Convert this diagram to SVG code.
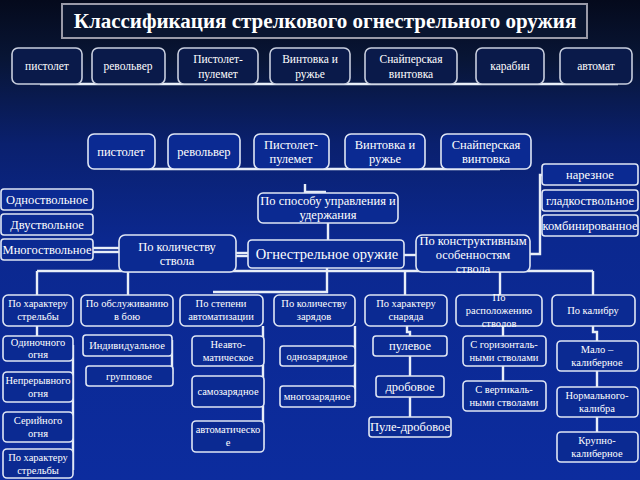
<svg xmlns="http://www.w3.org/2000/svg" width="640" height="480" viewBox="0 0 640 480" font-family="'Liberation Serif', 'DejaVu Serif', serif">
<defs>
<linearGradient id="bg" x1="0" y1="0" x2="0" y2="1">
<stop offset="0" stop-color="#050a1c"/>
<stop offset="0.12" stop-color="#081535"/>
<stop offset="0.3" stop-color="#0a206e"/>
<stop offset="0.5" stop-color="#0b288f"/>
<stop offset="1" stop-color="#0c2c9e"/>
</linearGradient>
<style>
.b{fill:#0b2a92;stroke:#dfe6f5;stroke-width:1.6}
.bt{fill:#0a1a4a;stroke:#c8cede;stroke-width:1.6}
.ti{fill:#0a1530;stroke:#9a9aa8;stroke-width:2}
.c{stroke:#e8eef8;stroke-width:2.4;fill:none}
text{font-family:'Liberation Serif','DejaVu Serif',serif;fill:#ffffff;text-anchor:middle}
.tt{font-size:11.5px}
.t12{font-size:12.5px}
.t11{font-size:10.5px}
.t15{font-size:14.5px}
</style>
</defs>
<rect width="640" height="480" fill="url(#bg)"/>

<g id="title">
<rect class="ti" x="62" y="4" width="525" height="34"/>
<text x="325" y="28" style="font-size:21px;font-weight:bold">Классификация стрелкового огнестрельного оружия</text>
</g>

<g id="connectors">
<line class="c" x1="40" y1="84" x2="618" y2="84" stroke-width="2"/>
<line class="c" x1="120" y1="169" x2="500" y2="169" stroke-width="2"/>
<polyline class="c" points="305,184 305,192 326,192"/>
<line class="c" x1="328" y1="223" x2="328" y2="240"/>
<line class="c" x1="236" y1="253" x2="248" y2="253"/>
<line class="c" x1="236" y1="256" x2="248" y2="256" stroke-width="1.5"/>
<line class="c" x1="404" y1="255" x2="416" y2="255"/>
<polyline class="c" points="530,254 540,254 540,175 542,175"/>
<line class="c" x1="93" y1="248" x2="119" y2="248" stroke-width="1.5"/>
<line class="c" x1="93" y1="252" x2="119" y2="252" stroke-width="1.5"/>
<line class="c" x1="37" y1="271" x2="593" y2="271"/>
<line class="c" x1="37" y1="271" x2="37" y2="295"/>
<line class="c" x1="128" y1="271" x2="128" y2="295"/>
<polyline class="c" points="327,268 327,292 213,292"/>
<line class="c" x1="405" y1="271" x2="405" y2="295"/>
<line class="c" x1="500" y1="271" x2="500" y2="295"/>
<line class="c" x1="593" y1="271" x2="593" y2="295"/>
<line class="c" x1="37" y1="326" x2="37" y2="336"/>
<line class="c" x1="73" y1="345" x2="73" y2="470"/>
<line class="c" x1="172" y1="340" x2="172" y2="374"/>
<line class="c" x1="263" y1="326" x2="263" y2="445"/>
<line class="c" x1="355" y1="326" x2="355" y2="402"/>
<polyline class="c" points="407,326 407,332 410,332 410,420"/>
<line class="c" x1="503" y1="326" x2="503" y2="381"/>
<polyline class="c" points="593,326 593,332 597,332 597,432"/>
</g>

<g id="top-pistolet"><rect class="bt" x="12" y="48" width="70" height="36" rx="6"/><text class="tt" x="47" y="70">пистолет</text></g>
<g id="top-revolver"><rect class="bt" x="92" y="48" width="73" height="36" rx="6"/><text class="tt" x="128" y="70">револьвер</text></g>
<g id="top-pp"><rect class="bt" x="178" y="48" width="80" height="36" rx="6"/><text class="tt" x="218" y="63">Пистолет-</text><text class="tt" x="218" y="78">пулемет</text></g>
<g id="top-vintovka"><rect class="bt" x="270" y="48" width="80" height="36" rx="6"/><text class="tt" x="310" y="63">Винтовка и</text><text class="tt" x="310" y="78">ружье</text></g>
<g id="top-sniper"><rect class="bt" x="365" y="48" width="92" height="36" rx="6"/><text class="tt" x="411" y="63">Снайперская</text><text class="tt" x="411" y="78">винтовка</text></g>
<g id="top-karabin"><rect class="bt" x="476" y="48" width="68" height="36" rx="6"/><text class="tt" x="510" y="70">карабин</text></g>
<g id="top-avtomat"><rect class="bt" x="560" y="48" width="72" height="36" rx="6"/><text class="tt" x="596" y="70">автомат</text></g>

<g id="r2-pistolet"><rect class="b" x="88" y="134" width="67" height="35" rx="6"/><text class="t12" x="121" y="156">пистолет</text></g>
<g id="r2-revolver"><rect class="b" x="168" y="134" width="72" height="35" rx="6"/><text class="t12" x="204" y="156">револьвер</text></g>
<g id="r2-pp"><rect class="b" x="254" y="134" width="75" height="35" rx="6"/><text class="t12" x="291" y="149">Пистолет-</text><text class="t12" x="291" y="163">пулемет</text></g>
<g id="r2-vintovka"><rect class="b" x="345" y="134" width="80" height="35" rx="6"/><text class="t12" x="385" y="149">Винтовка и</text><text class="t12" x="385" y="163">ружье</text></g>
<g id="r2-sniper"><rect class="b" x="441" y="134" width="90" height="35" rx="6"/><text class="t12" x="486" y="149">Снайперская</text><text class="t12" x="486" y="163">винтовка</text></g>

<g id="sposob"><rect class="b" x="258" y="193" width="140" height="30" rx="5"/><text class="t12" x="328" y="205">По способу управления и</text><text class="t12" x="328" y="219">удержания</text></g>
<g id="main"><rect class="b" x="248" y="240" width="156" height="28" rx="4" stroke-width="3.5"/><rect x="251" y="243" width="150" height="22" rx="2" fill="none" stroke="#0b2a92" stroke-width="1"/><text class="t15" x="327" y="259">Огнестрельное оружие</text></g>
<g id="kol-stvola"><rect class="b" x="119" y="235" width="117" height="37" rx="6"/><text class="t12" x="177" y="251">По количеству</text><text class="t12" x="177" y="265">ствола</text></g>
<g id="konstr"><rect class="b" x="416" y="235" width="114" height="37" rx="6"/><text class="t12" x="473" y="245">По конструктивным</text><text class="t12" x="473" y="259">особенностям</text><text class="t12" x="473" y="273">ствола</text></g>

<g id="odnostv"><rect class="b" x="1" y="189" width="92" height="21" rx="3"/><text class="t12" x="47" y="204">Одноствольное</text></g>
<g id="dvustv"><rect class="b" x="1" y="214" width="92" height="21" rx="3"/><text class="t12" x="47" y="229">Двуствольное</text></g>
<g id="mnogostv"><rect class="b" x="1" y="239" width="92" height="21" rx="3"/><text class="t12" x="47" y="254">Многоствольное</text></g>

<g id="nareznoe"><rect class="b" x="542" y="164" width="96" height="21" rx="3"/><text class="t12" x="590" y="179">нарезное</text></g>
<g id="gladk"><rect class="b" x="542" y="190" width="96" height="21" rx="3"/><text class="t12" x="590" y="205">гладкоствольное</text></g>
<g id="kombin"><rect class="b" x="542" y="215" width="96" height="21" rx="3"/><text class="t12" x="590" y="230">комбинированное</text></g>

<g id="c-strelba"><rect class="b" x="3" y="295" width="70" height="31" rx="5"/><text class="t11" x="38" y="307">По характеру</text><text class="t11" x="38" y="320">стрельбы</text></g>
<g id="c-obsl"><rect class="b" x="81" y="295" width="92" height="31" rx="5"/><text class="t11" x="127" y="307">По обслуживанию</text><text class="t11" x="127" y="320">в бою</text></g>
<g id="c-avto"><rect class="b" x="180" y="295" width="83" height="31" rx="5"/><text class="t11" x="221" y="307">По степени</text><text class="t11" x="221" y="320">автоматизации</text></g>
<g id="c-zar"><rect class="b" x="274" y="295" width="81" height="31" rx="5"/><text class="t11" x="314" y="307">По  количеству</text><text class="t11" x="314" y="320">зарядов</text></g>
<g id="c-snar"><rect class="b" x="365" y="295" width="82" height="31" rx="5"/><text class="t11" x="406" y="307">По характеру</text><text class="t11" x="406" y="320">снаряда</text></g>
<g id="c-rasp"><rect class="b" x="456" y="295" width="86" height="31" rx="5"/><text class="t11" x="499" y="301">По</text><text class="t11" x="499" y="314">расположению</text><text class="t11" x="499" y="327">стволов</text></g>
<g id="c-kalibr"><rect class="b" x="552" y="295" width="83" height="31" rx="5"/><text class="t11" x="593" y="314">По калибру</text></g>

<g id="s-odinoch"><rect class="b" x="3" y="336" width="70" height="25" rx="4"/><text class="t11" x="38" y="346">Одиночного</text><text class="t11" x="38" y="358">огня</text></g>
<g id="s-nepr"><rect class="b" x="3" y="372" width="70" height="30" rx="4"/><text class="t11" x="38" y="384">Непрерывного</text><text class="t11" x="38" y="397">огня</text></g>
<g id="s-seriyn"><rect class="b" x="3" y="412" width="70" height="30" rx="4"/><text class="t11" x="38" y="424">Серийного</text><text class="t11" x="38" y="437">огня</text></g>
<g id="s-strelba2"><rect class="b" x="3" y="449" width="70" height="29" rx="4"/><text class="t11" x="38" y="461">По характеру</text><text class="t11" x="38" y="474">стрельбы</text></g>

<g id="s-indiv"><rect class="b" x="83" y="335" width="89" height="21" rx="3"/><text class="t11" x="127" y="349">Индивидуальное</text></g>
<g id="s-grupp"><rect class="b" x="86" y="366" width="87" height="20" rx="3"/><text class="t11" x="129" y="380">групповое</text></g>

<g id="s-neavto"><rect class="b" x="192" y="336" width="72" height="30" rx="4"/><text class="t11" x="228" y="348">Неавто-</text><text class="t11" x="228" y="361">матическое</text></g>
<g id="s-samozar"><rect class="b" x="192" y="376" width="72" height="31" rx="4"/><text class="t11" x="228" y="395">самозарядное</text></g>
<g id="s-avtomat"><rect class="b" x="192" y="421" width="72" height="31" rx="4"/><text class="t11" x="228" y="433">автоматическо</text><text class="t11" x="228" y="446">е</text></g>

<g id="s-odnozar"><rect class="b" x="280" y="346" width="75" height="20" rx="3"/><text class="t11" x="317" y="360">однозарядное</text></g>
<g id="s-mnogozar"><rect class="b" x="280" y="386" width="75" height="21" rx="3"/><text class="t11" x="317" y="400">многозарядное</text></g>

<g id="s-pulevoe"><rect class="b" x="373" y="336" width="74" height="20" rx="3"/><text class="t12" x="410" y="350">пулевое</text></g>
<g id="s-drobovoe"><rect class="b" x="376" y="376" width="68" height="21" rx="3"/><text class="t12" x="410" y="391">дробовое</text></g>
<g id="s-puledrob"><rect class="b" x="369" y="417" width="82" height="20" rx="3"/><text class="t12" x="410" y="431">Пуле-дробовое</text></g>

<g id="s-goriz"><rect class="b" x="463" y="336" width="83" height="30" rx="4"/><text class="t11" x="504" y="348">С горизонталь-</text><text class="t11" x="504" y="361">ными стволами</text></g>
<g id="s-vert"><rect class="b" x="463" y="381" width="83" height="30" rx="4"/><text class="t11" x="504" y="393">С вертикаль-</text><text class="t11" x="504" y="406">ными стволами</text></g>

<g id="s-malo"><rect class="b" x="557" y="341" width="81" height="30" rx="4"/><text class="t11" x="597" y="353">Мало –</text><text class="t11" x="597" y="366">калиберное</text></g>
<g id="s-norm"><rect class="b" x="557" y="387" width="81" height="30" rx="4"/><text class="t11" x="597" y="399">Нормального-</text><text class="t11" x="597" y="412">калибра</text></g>
<g id="s-krupno"><rect class="b" x="557" y="432" width="81" height="30" rx="4"/><text class="t11" x="597" y="444">Крупно-</text><text class="t11" x="597" y="457">калиберное</text></g>
</svg>
